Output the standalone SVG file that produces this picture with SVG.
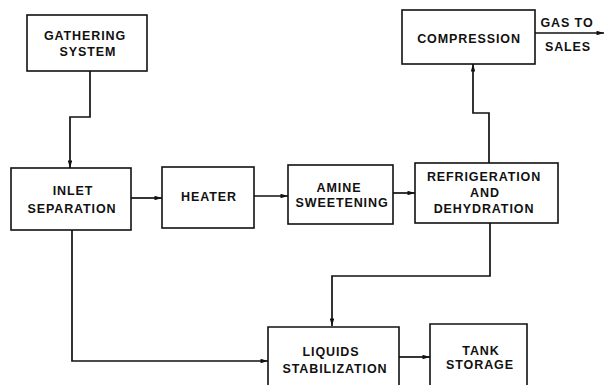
<svg xmlns="http://www.w3.org/2000/svg" width="604" height="385" viewBox="0 0 604 385">
<defs>
<style>
.box{fill:#fff;stroke:#111;stroke-width:1.6}
.t{font-family:"Liberation Sans",Arial,sans-serif;font-weight:bold;font-size:12.5px;letter-spacing:0.9px;fill:#111;text-anchor:middle}
.c{fill:none;stroke:#111;stroke-width:1.7}
</style>
<marker id="ah" viewBox="0 0 10 6" refX="10" refY="3" markerWidth="8" markerHeight="4.5" markerUnits="userSpaceOnUse" orient="auto">
<path d="M0,0 L10,3 L0,6 Z" fill="#111"/>
</marker>
</defs>
<rect width="604" height="385" fill="#fff"/>
<g id="connectors">
<path class="c" d="M90,71 V117 H70 V168" marker-end="url(#ah)"/>
<path class="c" d="M131,198 H162" marker-end="url(#ah)"/>
<path class="c" d="M254,196 H288" marker-end="url(#ah)"/>
<path class="c" d="M393,193 H415" marker-end="url(#ah)"/>
<path class="c" d="M489,163 V113 H473 V64" marker-end="url(#ah)"/>
<path class="c" d="M535,33 H604" marker-end="url(#ah)"/>
<path class="c" d="M490,223 V276 H332 V326" marker-end="url(#ah)"/>
<path class="c" d="M72,230 V361 H268" marker-end="url(#ah)"/>
<path class="c" d="M399,357 H430" marker-end="url(#ah)"/>
</g>
<g id="gathering">
<rect class="box" x="27" y="15" width="120" height="56"/>
<text class="t" x="85" y="39.5">GATHERING</text>
<text class="t" x="88" y="55.5">SYSTEM</text>
</g>
<g id="inlet">
<rect class="box" x="11" y="168" width="120" height="62"/>
<text class="t" x="73" y="195">INLET</text>
<text class="t" x="72" y="213">SEPARATION</text>
</g>
<g id="heater">
<rect class="box" x="162" y="167" width="92" height="61"/>
<text class="t" x="209" y="201">HEATER</text>
</g>
<g id="amine">
<rect class="box" x="288" y="165" width="105" height="59"/>
<text class="t" x="339" y="192">AMINE</text>
<text class="t" x="342" y="207">SWEETENING</text>
</g>
<g id="refrigeration">
<rect class="box" x="415" y="163" width="143" height="60"/>
<text class="t" x="484" y="181">REFRIGERATION</text>
<text class="t" x="485" y="197">AND</text>
<text class="t" x="484" y="213">DEHYDRATION</text>
</g>
<g id="compression">
<rect class="box" x="402" y="10" width="133" height="54"/>
<text class="t" x="469" y="43">COMPRESSION</text>
</g>
<g id="gas-to-sales">
<text class="t" x="567" y="27">GAS TO</text>
<text class="t" x="568" y="51">SALES</text>
</g>
<g id="liquids">
<path class="box" d="M268,386 V327 H399 V386"/>
<text class="t" x="331" y="356">LIQUIDS</text>
<text class="t" x="335" y="373">STABILIZATION</text>
</g>
<g id="tank">
<path class="box" d="M430,386 V324 H527 V386"/>
<text class="t" x="481" y="355">TANK</text>
<text class="t" x="480" y="369">STORAGE</text>
</g>
</svg>
